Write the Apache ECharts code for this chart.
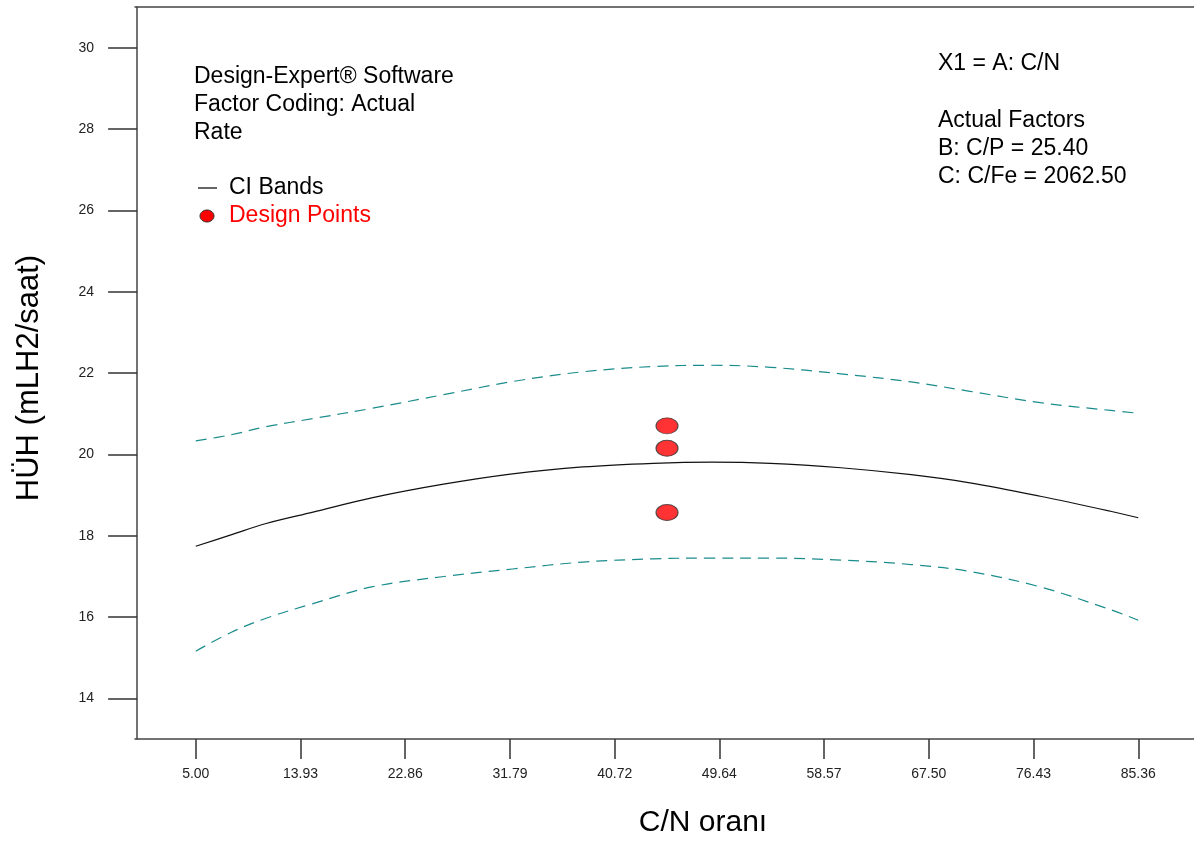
<!DOCTYPE html>
<html>
<head>
<meta charset="utf-8">
<script src="https://cdn.jsdelivr.net/npm/echarts@6/dist/echarts.min.js"></script>
<style>
  html, body { margin: 0; padding: 0; background: #fff; }
  #chart { width: 1194px; height: 842px; }
</style>
</head>
<body>
<div id="chart"></div>
<script>
// C/N ratio sample positions along the prediction curve
const cnValues = [5, 8, 11, 15, 20, 26, 32, 38, 44, 49, 54, 60, 66, 71, 77, 83, 85.36];
// Predicted hydrogen production rate (mLH2/saat)
const predicted = [17.74, 18.02, 18.30, 18.58, 18.93, 19.26, 19.52, 19.69, 19.78, 19.81, 19.78, 19.67, 19.50, 19.30, 18.97, 18.60, 18.44];
// Upper and lower confidence interval bands
const ciUpper = [20.33, 20.48, 20.68, 20.88, 21.13, 21.46, 21.79, 22.03, 22.16, 22.19, 22.14, 21.98, 21.78, 21.55, 21.27, 21.08, 21.01];
const ciLower = [15.16, 15.62, 15.97, 16.33, 16.74, 16.99, 17.18, 17.35, 17.43, 17.45, 17.45, 17.40, 17.29, 17.12, 16.74, 16.18, 15.92];
// Design points (C/N, rate)
const designX = [45.18, 45.18, 45.18];
const designY = [20.70, 20.15, 18.57];
// Tick labels
const xTicks = [5.00, 13.93, 22.86, 31.79, 40.72, 49.64, 58.57, 67.50, 76.43, 85.36];
const yTicks = [14, 16, 18, 20, 22, 24, 26, 28, 30];

const font = "'Liberation Sans', Arial, sans-serif";
const tealColor = '#1b8c8c';
const axisColor = '#444';

const zip = (xs, ys) => xs.map((x, i) => [x, ys[i]]);

const chart = echarts.init(document.getElementById('chart'), null, { renderer: 'canvas' });

const noteStyle = { fontFamily: font, fontSize: 23, fill: '#000' };
const note = (x, y, text, extra) => ({
  type: 'text', x, y,
  style: Object.assign({}, noteStyle, { text, verticalAlign: 'middle' }, extra || {})
});

// axis range: padded on the left, running off the right edge of the page
const xMin = -0.18;
const xMax = 90.11;

chart.setOption({
  animation: false,
  backgroundColor: '#fff',
  grid: { left: 135, top: 7, right: 0, bottom: 103, show: false },
  xAxis: [
    {
      type: 'value', min: xMin, max: xMax,
      axisLine: { show: true, lineStyle: { color: axisColor, width: 1.5 } },
      axisTick: { show: true, inside: false, length: 20, customValues: xTicks, lineStyle: { color: '#333', width: 1.5 } },
      axisLabel: {
        customValues: xTicks, margin: 28, color: '#222', fontSize: 14, fontFamily: font,
        formatter: v => Number(v).toFixed(2)
      },
      splitLine: { show: false }
    },
    {
      // top frame line
      type: 'value', position: 'top', min: xMin, max: xMax,
      axisLine: { show: true, lineStyle: { color: axisColor, width: 1.5 } },
      axisTick: { show: false }, axisLabel: { show: false }, splitLine: { show: false }
    }
  ],
  yAxis: {
    type: 'value', min: 13, max: 31,
    axisLine: { show: true, lineStyle: { color: axisColor, width: 1.5 } },
    axisTick: { show: true, inside: false, length: 29, customValues: yTicks, lineStyle: { color: '#333', width: 1.5 } },
    axisLabel: { customValues: yTicks, margin: 41, color: '#222', fontSize: 14, fontFamily: font },
    splitLine: { show: false }
  },
  series: [
    {
      name: 'CI Upper', type: 'line', data: zip(cnValues, ciUpper), smooth: 0.35,
      showSymbol: false, lineStyle: { color: tealColor, width: 1.2, type: [11, 7] }
    },
    {
      name: 'Prediction', type: 'line', data: zip(cnValues, predicted), smooth: 0.35,
      showSymbol: false, lineStyle: { color: '#111', width: 1.2 }
    },
    {
      name: 'CI Lower', type: 'line', data: zip(cnValues, ciLower), smooth: 0.35,
      showSymbol: false, lineStyle: { color: tealColor, width: 1.2, type: [11, 7] }
    },
    {
      name: 'Design Points', type: 'scatter', data: zip(designX, designY),
      symbol: 'circle', symbolSize: [22, 16],
      itemStyle: { color: '#ff0000', borderColor: '#333', borderWidth: 1 }
    }
  ],
  graphic: [
    // axis titles
    { type: 'text', x: 703, y: 823,
      style: { text: 'C/N oranı', font: `30px ${font}`, fill: '#000', align: 'center', verticalAlign: 'middle' } },
    { type: 'text', x: 29, y: 378, rotation: Math.PI / 2,
      style: { text: 'HÜH (mLH2/saat)', font: `31px ${font}`, fill: '#000', align: 'center', verticalAlign: 'middle' } },
    // software notes
    note(194, 77, 'Design-Expert® Software'),
    note(194, 105, 'Factor Coding: Actual'),
    note(194, 133, 'Rate'),
    // legend
    { type: 'line', shape: { x1: 198, y1: 188, x2: 217, y2: 188 }, style: { stroke: '#000', lineWidth: 1.2 } },
    note(229, 188, 'CI Bands'),
    { type: 'ellipse', shape: { cx: 207, cy: 216, rx: 7, ry: 6 }, style: { fill: '#ff0000', stroke: '#333', lineWidth: 1 } },
    note(229, 216, 'Design Points', { fill: '#ff0000' }),
    // factor settings
    note(938, 64, 'X1 = A: C/N'),
    note(938, 121, 'Actual Factors'),
    note(938, 149, 'B: C/P = 25.40'),
    note(938, 177, 'C: C/Fe = 2062.50')
  ]
});
</script>
</body>
</html>
